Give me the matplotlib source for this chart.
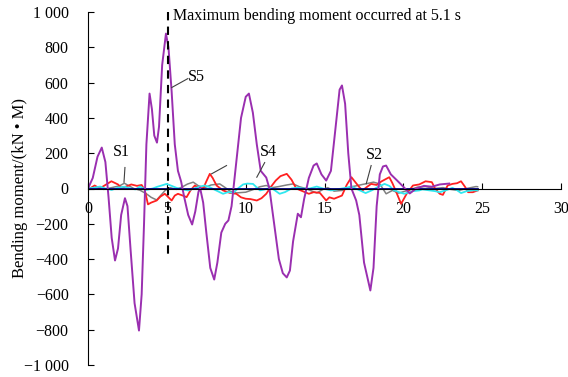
import numpy as np
import matplotlib
matplotlib.use('Agg')
import matplotlib.pyplot as plt

plt.rcParams['font.family'] = ['Liberation Serif', 'DejaVu Serif']

# S5 (purple)
s5_t = [0.0, 0.3, 0.6, 0.87, 1.1, 1.3, 1.5, 1.71, 1.9, 2.1, 2.34, 2.5, 2.7, 2.95, 3.23, 3.4, 3.55, 3.7, 3.9,
        4.05, 4.2, 4.37, 4.5, 4.7, 4.94, 5.1, 5.3, 5.5, 5.7, 5.9, 6.1, 6.35, 6.6, 6.8, 7.0, 7.1, 7.3, 7.5,
        7.75, 8.0, 8.2, 8.45, 8.7, 8.9, 9.1, 9.4, 9.7, 10.0, 10.2, 10.45, 10.7, 10.95, 11.3, 11.5, 11.8,
        12.1, 12.35, 12.6, 12.8, 13.0, 13.3, 13.5, 13.7, 14.0, 14.3, 14.5, 14.8, 15.1, 15.4, 15.7, 15.95,
        16.1, 16.3, 16.5, 16.7, 17.0, 17.2, 17.5, 17.9, 18.1, 18.3, 18.5, 18.7, 18.9, 19.2, 19.6, 20.1,
        20.4, 20.8, 21.3, 21.8, 22.3, 22.9]
s5_v = [0, 60, 180, 232, 150, -50, -280, -408, -340, -150, -55, -100, -350, -650, -805, -600, -200, 250, 538,
        450, 300, 260, 350, 700, 878, 800, 550, 250, 100, 40, -50, -150, -204, -130, -20, 5, -80, -250,
        -450, -516, -420, -250, -200, -181, -100, 150, 400, 520, 538, 430, 250, 100, 62, 0, -200,
        -400, -480, -504, -465, -300, -143, -163, -60, 60, 130, 142, 80, 45, 100, 350, 560,
        584, 480, 200, 0, -68, -150, -420, -578, -450, -100, 80, 125, 130, 80, 45, 0,
        -28, 0, 15, 10, 23, 28]

# gray
gr_t = [0, 0.5, 1.0, 1.5, 2.0, 2.3, 2.6, 2.9, 3.3, 3.7, 4.0, 4.35, 4.6, 4.9, 5.2, 5.6, 6.0, 6.3, 6.67, 7.0,
        7.4, 7.8, 8.35, 8.7, 9.0, 9.4, 10.0, 10.5, 10.9, 11.3, 11.7, 12.1, 12.6, 13.0, 13.4, 13.8, 14.2,
        14.5, 14.9, 15.2, 15.6, 16.1, 16.4, 16.7, 17.0, 17.4, 17.8, 18.1, 18.5, 18.9, 19.3, 19.7, 20.3,
        20.9, 21.4, 22.0, 22.5, 23.0, 23.5, 24.0, 24.6, 24.7]
gr_v = [0, 5, -5, 5, 15, 30, 15, 0, -10, -30, -50, -65, -40, -10, 5, -5, 10, 25, 36, 15,
        5, 20, 26, 5, -15, -25, -21, -5, 10, 17, 5, 11, 20, 26, 10, 0, -15,
        -25, -5, 5, -15, -11, 0, 10, 15, 23, 30, 36, 26, -30, -11, -26, -10,
        8, 11, 0, 5, -5, -11, 0, 11, 10]

# red
rd_t = [0, 0.2, 0.42, 0.74, 1.1, 1.48, 1.9, 2.1, 2.32, 2.74, 3.1, 3.4, 3.6, 3.8, 4.0, 4.35, 4.6, 4.87, 5.1,
        5.3, 5.5, 5.7, 6.0, 6.25, 6.5, 6.77, 7.0, 7.3, 7.5, 7.72, 7.9, 8.15, 8.56, 9.0, 9.4, 9.7, 10.0,
        10.3, 10.7, 11.0, 11.3, 11.6, 11.9, 12.2, 12.6, 12.9, 13.2, 13.6, 14.0, 14.3, 14.7, 15.1, 15.3,
        15.6, 16.1, 16.4, 16.7, 17.0, 17.2, 17.4, 17.7, 17.95, 18.3, 18.6, 19.1, 19.3, 19.5, 19.85, 20.2,
        20.6, 21.0, 21.4, 21.8, 22.0, 22.3, 22.5, 22.8, 23.1, 23.4, 23.65, 23.9, 24.1, 24.4, 24.7]
rd_v = [-7, 5, 17, 0, 20, 41, 23, 5, 8, 23, 15, 20, -10, -90, -80, -68, -45, -30, -50,
        -68, -40, -30, -40, -49, -10, 17, 5, 0, 40, 83, 60, 17, -11, -25, -30, -50, -58,
        -60, -68, -55, -30, 10, 45, 70, 83, 50, 0, -15, -30, -21, -25, -68, -50,
        -58, -40, 20, 64, 30, 8, -11, 10, 26, 20, 40, 64, 30, -11, -87, -30,
        17, 23, 41, 36, 0, -30, -36, 17, 26, 30, 41, 10, -21, -21, -11]

# cyan
cy_t = [0, 0.4, 0.76, 1.1, 1.5, 1.9, 2.3, 2.7, 3.0, 3.3, 3.7, 4.1, 4.4, 4.66, 4.98, 5.3, 5.6, 6.0, 6.35,
        6.7, 7.1, 7.4, 7.7, 8.1, 8.56, 8.9, 9.2, 9.5, 9.83, 10.1, 10.46, 10.9, 11.2, 11.6, 12.15, 12.5,
        12.9, 13.3, 13.6, 14.05, 14.5, 14.9, 15.4, 15.8, 16.1, 16.4, 16.7, 17.1, 17.6, 18.0, 18.4, 18.8,
        19.1, 19.4, 19.7, 20.05, 20.6, 21.0, 21.2, 21.6, 22.0, 22.3, 22.7, 23.1, 23.4, 23.65, 24.0, 24.4, 24.7]
cy_v = [0, 5, 11, 0, -8, 5, 10, 0, -5, 11, -8, 0, 10, 17, 26, 15, 4, -5, -11,
        0, 11, 17, 8, -10, -30, -20, -25, 0, 23, 28, 26, -11, -5, 5, -30, -20,
        0, 5, 0, 0, 11, 0, -11, -5, 0, 5, 11, -5, -26, -10, 10, 26,
        15, -10, -20, -30, -15, -11, -5, -10, -15, -21, -10, 4, -10, -26, -15, -10, -11]

# navy (flat)
nv_t = [0, 24.7]
nv_v = [0, 0]

fig = plt.figure(figsize=(5.68, 3.77), dpi=100)
ax = fig.add_axes([0.155, 0.032, 0.833, 0.936])

ax.plot(gr_t, gr_v, color='#808080', lw=1.1)
ax.plot(rd_t, rd_v, color='#ff2020', lw=1.3)
ax.plot(cy_t, cy_v, color='#30e8f0', lw=1.3)
ax.plot(nv_t, nv_v, color='#000080', lw=1.3)
ax.plot(s5_t, s5_v, color='#9a2fb0', lw=1.4)

ax.plot([5.1, 5.1], [1000, -370], color='black', lw=1.5, ls=(0, (4, 3)))

ax.set_xlim(0, 30)
ax.set_ylim(-1000, 1000)
ax.spines['top'].set_visible(False)
ax.spines['right'].set_visible(False)
ax.spines['bottom'].set_position(('data', 0))
ax.set_xticks([0, 5, 10, 15, 20, 25, 30])
ax.set_yticks(np.arange(-1000, 1001, 200))
ax.set_yticklabels(['\u22121 000', '\u2212800', '\u2212600', '\u2212400', '\u2212200', '0',
                    '200', '400', '600', '800', '1 000'])
ax.tick_params(direction='in', labelsize=11.5, length=4)
ax.tick_params(axis='x', pad=9)
ax.tick_params(axis='y', pad=14)
ax.set_ylabel('Bending moment/(kN \u2022 M)', fontsize=12, labelpad=-3)

ax.text(5.4, 975, 'Maximum bending moment occurred at 5.1 s', fontsize=11.5, va='center')

# leader labels
ax.text(1.6, 185, 'S1', fontsize=11.5)
ax.plot([2.34, 2.28], [119, 36], color='#404040', lw=0.8)
ax.text(6.3, 610, 'S5', fontsize=11.5)
ax.plot([6.33, 5.3], [623, 572], color='#404040', lw=0.8)
ax.text(10.9, 185, 'S4', fontsize=11.5)
ax.plot([11.2, 10.7], [147, 64], color='#404040', lw=0.8)
ax.plot([8.78, 7.83], [130, 83], color='#404040', lw=0.8)
ax.text(17.6, 165, 'S2', fontsize=11.5)
ax.plot([17.95, 17.64], [130, 27], color='#404040', lw=0.8)

plt.savefig('out.png', dpi=100)
